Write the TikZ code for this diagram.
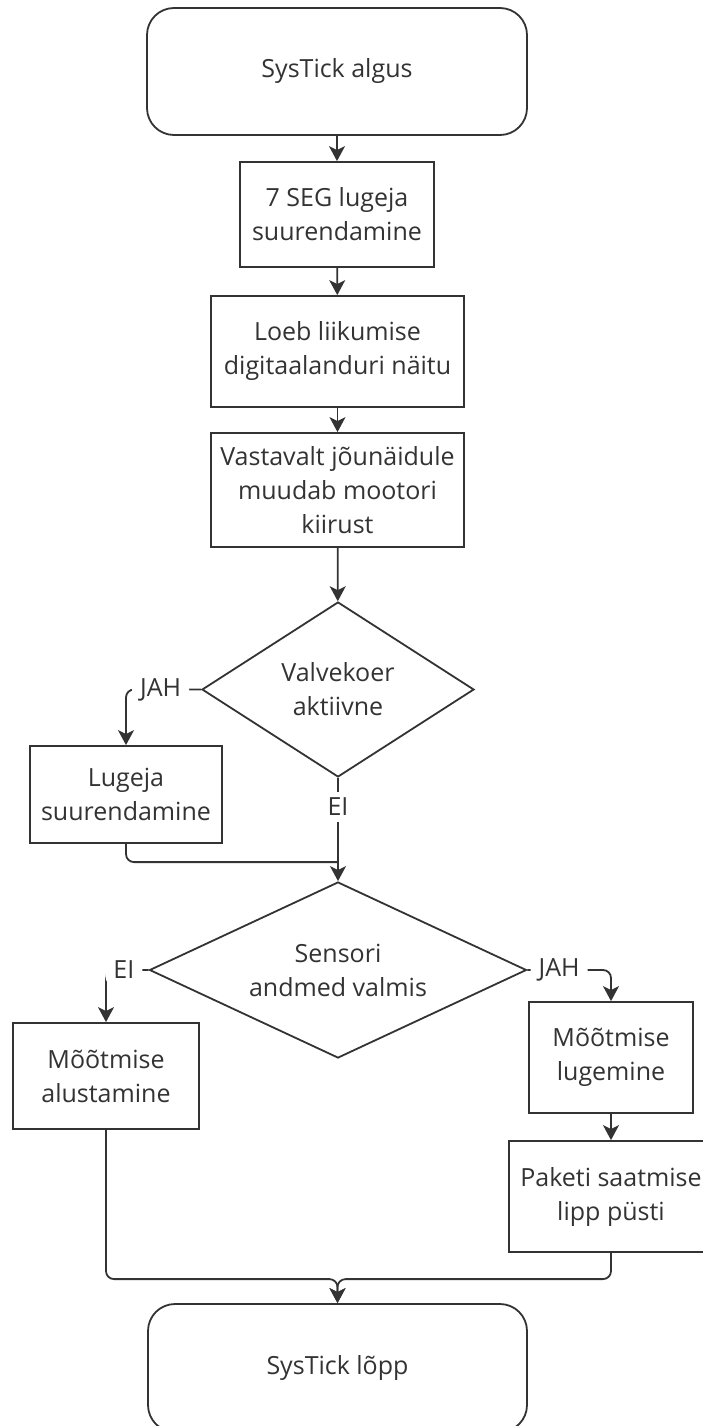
\documentclass[tikz,border=0pt]{standalone}
\usepackage{fontspec}
\setmainfont{Open Sans}
\usetikzlibrary{arrows.meta,shapes.geometric,calc}
\definecolor{ink}{HTML}{333333}
\tikzset{
  every node/.style={font=\fontsize{25}{34}\selectfont, text=ink},
  base/.style={draw=ink, line width=1.8pt, inner sep=0pt, align=center, fill=white},
  term/.style={base, rounded corners=27pt},
  proc/.style={base},
  decide/.style={base, shape=diamond},
  line/.style={draw=ink, line width=1.8pt},
  arr/.style={line, -{Stealth[length=15pt, width=16pt, inset=4pt]}},
  lab/.style={fill=white, inner xsep=8pt, inner ysep=6pt}
}
\begin{document}
\begin{tikzpicture}[x=1pt, y=-1pt]
\useasboundingbox (0,0) rectangle (703,1426);

% main column
\node[term, minimum width=380pt, minimum height=127pt] (start) at (337,71.5) {SysTick algus};
\node[proc, minimum width=194pt, minimum height=105pt] (b1) at (337,214.5) {7 SEG lugeja\\suurendamine};
\node[proc, minimum width=253pt, minimum height=111pt] (b2) at (337.5,351.5) {Loeb liikumise\\digitaalanduri näitu};
\node[proc, minimum width=253pt, minimum height=114pt] (b3) at (337.5,490) {Vastavalt jõunäidule\\muudab mootori\\kiirust};
\node[decide, minimum width=272pt, minimum height=175pt, aspect=1.55] (d1) at (338,689.5) {Valvekoer\\aktiivne};
\node[proc, minimum width=192pt, minimum height=97pt] (lug) at (126,794.5) {Lugeja\\suurendamine};
\node[decide, minimum width=377pt, minimum height=176pt, aspect=2.1] (d2) at (338,970) {Sensori\\andmed valmis};

% branches of the sensor check
\node[proc, minimum width=186pt, minimum height=106pt] (mal) at (106,1076) {Mõõtmise\\alustamine};
\node[proc, minimum width=164pt, minimum height=111pt] (mlu) at (611,1057.5) {Mõõtmise\\lugemine};
\node[proc, minimum width=204pt, minimum height=111pt] (pak) at (611,1196.5) {Paketi saatmise\\lipp püsti};
\node[term, minimum width=379pt, minimum height=128pt] (stop) at (337.5,1368) {SysTick lõpp};

% junction points
\coordinate (m1) at ($(d2.north)+(0,-19)$);
\coordinate (m2) at ($(stop.north)+(0,-24)$);

% connectors
\draw[arr] (start) -- (b1);
\draw[arr] (b1) -- (b2);
\draw[arr] (b2) -- (b3);
\draw[arr] (b3) -- (d1);
\draw[arr, rounded corners=8pt] (d1.west) -| node[lab, pos=0.27] {JAH} (lug.north);
\draw[arr] (d1.south) -- node[lab, pos=0.28] {EI} (d2.north);
\draw[line, rounded corners=8pt] (lug.south) |- (m1);
\draw[arr, rounded corners=8pt] (d2.west) -| node[lab, pos=0.29] {EI} (mal.north);
\draw[arr, rounded corners=8pt] (d2.east) -| node[lab, pos=0.19] {JAH} (mlu.north);
\draw[arr] (mlu) -- (pak);
\draw[arr, rounded corners=8pt] (mal.south) |- (m2) -- (stop.north);
\draw[arr, rounded corners=8pt] (pak.south) |- (m2) -- (stop.north);
\end{tikzpicture}
\end{document}
